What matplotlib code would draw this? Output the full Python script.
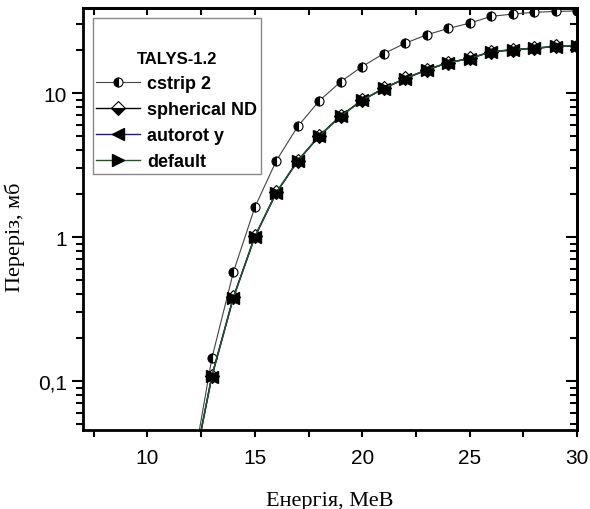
import matplotlib
matplotlib.use("Agg")
import matplotlib.pyplot as plt
from matplotlib.ticker import LogLocator, FixedLocator, NullFormatter, FuncFormatter

# energies (MeV); first point only for the line going below the axis
energy = [12, 13, 14, 15, 16, 17, 18, 19, 20, 21, 22, 23, 24, 25, 26, 27, 28, 29, 30]

cstrip2 = [0.02, 0.144, 0.57, 1.61, 3.39, 5.87, 8.84, 12.0, 15.3, 18.8, 22.2, 25.4,
           28.1, 30.6, 34.1, 35.4, 36.4, 36.9, 37.2]
spherical_nd = [0.019, 0.109, 0.381, 1.01, 2.04, 3.39, 5.05, 6.95, 8.94, 10.8, 12.65, 14.5,
                16.3, 17.4, 19.4, 20.0, 20.5, 21.1, 21.3]
autorot_y = [0.019, 0.107, 0.378, 1.0, 2.03, 3.38, 5.03, 6.92, 8.9, 10.75, 12.6, 14.45,
             16.25, 17.35, 19.35, 19.95, 20.45, 21.05, 21.25]
default = [0.019, 0.108, 0.38, 1.005, 2.035, 3.385, 5.04, 6.94, 8.92, 10.78, 12.62, 14.48,
           16.28, 17.38, 19.38, 19.98, 20.48, 21.08, 21.28]

xticks = [10, 15, 20, 25, 30]
yticks = [0.1, 1, 10]

plt.rcParams['font.family'] = ['Liberation Sans', 'DejaVu Sans']

fig = plt.figure(figsize=(5.9, 5.1), dpi=100)
ax = fig.add_axes([83 / 590, 79 / 510, 494 / 590, 422 / 510])

mk = dict(markevery=list(range(1, len(energy))), markeredgecolor='black')
ax.plot(energy, cstrip2, color='#444444', lw=0.8, marker='o', ms=6.5,
        fillstyle='left', markerfacecolor='black', markerfacecoloralt='white',
        markeredgewidth=0.8, label='cstrip 2', **mk)
ax.plot(energy, spherical_nd, color='black', lw=1.0, marker='D', ms=7.5,
        fillstyle='bottom', markerfacecolor='black', markerfacecoloralt='white',
        markeredgewidth=0.8, label='spherical ND', **mk)
ax.plot(energy, autorot_y, color='#1a1a80', lw=1.0, marker='<', ms=8,
        markerfacecolor='black', label='autorot y', **mk)
ax.plot(energy, default, color='#1e5a1e', lw=1.0, marker='>', ms=8,
        markerfacecolor='black', label='default', **mk)

ax.set_yscale('log')
ax.set_xlim(7, 30)
ax.set_ylim(0.0457, 39)

ax.xaxis.set_major_locator(FixedLocator(xticks))
ax.xaxis.set_minor_locator(FixedLocator([7.5, 12.5, 17.5, 22.5, 27.5]))
ax.yaxis.set_major_locator(FixedLocator(yticks))
ax.yaxis.set_minor_locator(LogLocator(base=10, subs=range(2, 10)))
ax.yaxis.set_minor_formatter(NullFormatter())
ax.yaxis.set_major_formatter(FuncFormatter(lambda v, p: ('%g' % v).replace('.', ',')))

for s in ax.spines.values():
    s.set_linewidth(2)
ax.tick_params(axis='both', which='both', labelsize=15, width=1.5)
ax.tick_params(axis='x', which='both', direction='out', length=5, top=False)
ax.tick_params(axis='y', which='major', direction='out', length=8, right=False)
ax.tick_params(axis='y', which='minor', direction='out', length=5, right=False)
ax.tick_params(axis='x', which='major', pad=8)

# inward ticks on the top and right sides
ax_top = ax.secondary_xaxis('top')
ax_top.xaxis.set_major_locator(FixedLocator(xticks + [7.5, 12.5, 17.5, 22.5, 27.5]))
ax_top.tick_params(direction='in', length=5, width=1.5, labeltop=False)
ax_right = ax.secondary_yaxis('right')
ax_right.set_yscale('log')
ax_right.yaxis.set_major_locator(FixedLocator(yticks))
ax_right.yaxis.set_minor_locator(LogLocator(base=10, subs=range(2, 10)))
ax_right.tick_params(which='major', direction='in', length=8, width=1.5, labelright=False)
ax_right.tick_params(which='minor', direction='in', length=5, width=1.5, labelright=False)
for a in (ax_top, ax_right):
    for s in a.spines.values():
        s.set_linewidth(2)

ax.set_xlabel('Енергія, МеВ', family='Liberation Serif', fontsize=16, labelpad=17)
ax.set_ylabel('Переріз, мб', family='Liberation Serif', fontsize=16)
ax.yaxis.set_label_coords(-0.117, 0.46)

leg = ax.legend(title='\nTALYS-1.2', loc='upper left', bbox_to_anchor=(0.02, 0.976),
                borderaxespad=0, fancybox=False, edgecolor='#888888', framealpha=1,
                prop={'weight': 'bold', 'size': 13},
                title_fontproperties={'weight': 'bold', 'size': 12},
                handlelength=2.4, handletextpad=0.4, labelspacing=0.5, borderpad=0.2)
leg.get_title().set_linespacing(2.2)
leg.get_frame().set_linewidth(1.0)

fig.savefig('out.png', dpi=100)
